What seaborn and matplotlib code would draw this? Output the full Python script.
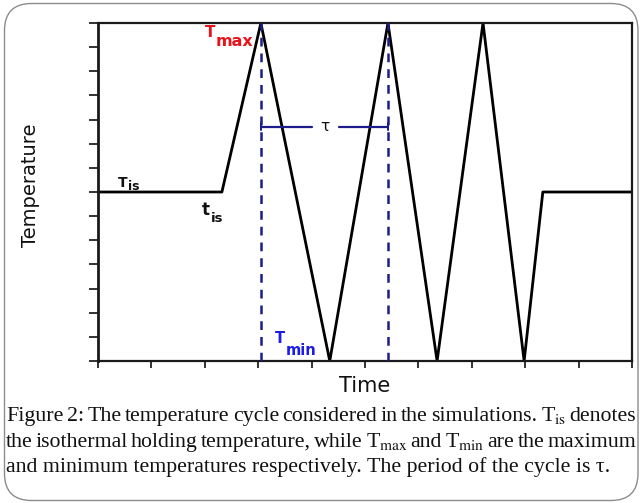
import matplotlib
matplotlib.use("Agg")
import matplotlib.pyplot as plt
import seaborn as sns
import numpy as np
import pandas as pd
from matplotlib.patches import FancyBboxPatch

# ---- data ----
time = [0.0, 2.32, 3.05, 4.34, 5.43, 6.35, 7.21, 7.98, 8.33, 10.0]
temp = [7, 7, 14, 0, 14, 0, 14, 0, 7, 7]
period_marks = [3.05, 5.43]          # dashed lines at first two maxima
tau_level = 9.7
x_ticks = list(range(0, 11))
y_ticks = list(range(0, 15))

caption_line1 = ["Figure", "2:", "The", "temperature", "cycle", "considered", "in", "the",
                 "simulations.", r"T$_{\mathrm{is}}$", "denotes"]
caption_line2 = ["the", "isothermal", "holding", "temperature,", "while", r"T$_{\mathrm{max}}$",
                 "and", r"T$_{\mathrm{min}}$", "are", "the", "maximum"]
caption_line3 = "and minimum temperatures respectively. The period of the cycle is τ."

sns.set_theme(style="white")
plt.rcParams['font.family'] = ['DejaVu Sans']

W, H = 641, 503
fig = plt.figure(figsize=(W / 100, H / 100), dpi=100)
fig.patch.set_facecolor("white")

L, R, T, B = 98, 632, 23, 361
ax = fig.add_axes([L / W, 1 - B / H, (R - L) / W, (B - T) / H])

df = pd.DataFrame({"Time": time, "Temperature": temp})
sns.lineplot(data=df, x="Time", y="Temperature", ax=ax, color="black", lw=2.0,
             sort=False, estimator=None)

navy = "#1c1c8a"
for xm in period_marks:
    ax.plot([xm, xm], [0, 14], color=navy, lw=1.8, ls=(0, (3.5, 2.8)), zorder=3)

# tau bracket
ax.plot([period_marks[0], 4.01], [tau_level, tau_level], color=navy, lw=1.6)
ax.plot([4.51, period_marks[1]], [tau_level, tau_level], color=navy, lw=1.6)
ax.plot([period_marks[0], period_marks[0]], [tau_level - 0.15, tau_level + 0.15], color=navy, lw=1.4)
ax.plot([period_marks[1], period_marks[1]], [tau_level - 0.15, tau_level + 0.15], color=navy, lw=1.4)
ax.text(4.25, tau_level, "τ", fontsize=11, ha="center", va="center", color="#111111")

ax.set_xlim(0, 10)
ax.set_ylim(0, 14)
ax.set_xticks(x_ticks)
ax.set_yticks(y_ticks)
ax.set_xticklabels([])
ax.set_yticklabels([])
ax.tick_params(axis="y", which="both", left=True, direction="out", length=6.5, width=1.3, color="#222222")
ax.tick_params(axis="x", which="both", bottom=True, direction="out", length=5, width=1.3, color="#222222")
for s in ["left", "bottom", "top", "right"]:
    ax.spines[s].set_visible(True)
    ax.spines[s].set_color("#1a1a1a")
    ax.spines[s].set_linewidth(1.6)
ax.spines["left"].set_linewidth(2.0)
ax.set_facecolor("white")
ax.grid(False)

ax.set_xlabel("Time", fontsize=15, color="#111111")
ax.set_ylabel("Temperature", fontsize=14, color="#111111")
ax.xaxis.set_label_coords(0.5, -0.045)
ax.yaxis.set_label_coords(-0.108, 0.52)

# labels inside plot
def px2d(px, py):
    return (px - L) / (R - L) * 10, (B - py) / (B - T) * 14

def sublabel(base, sub, pbase, psub, fs_base, fs_sub, color):
    x, y = px2d(*pbase)
    ax.text(x, y, base, fontsize=fs_base, fontweight="bold", color=color, ha="left", va="baseline")
    x, y = px2d(*psub)
    ax.text(x, y, sub, fontsize=fs_sub, fontweight="bold", color=color, ha="left", va="baseline")

sublabel("T", "max", (205, 37), (216, 46), 11.0, 11.5, "#e8141b")
sublabel("T", "min", (275, 343), (286, 355), 10.5, 10.5, "#1c1ce6")
sublabel("T", "is", (118, 187), (128, 189.5), 10.0, 9.0, "#111111")
sublabel("t", "is", (202, 215), (211, 222), 12, 9.5, "#111111")

# border
border = FancyBboxPatch((4.5, 2.5), 633.5, 497, boxstyle="round,pad=0,rounding_size=27",
                        transform=None, facecolor="none", edgecolor="#8c8c8c", lw=1.0)
fig.patches.append(border)

# caption, justified
fig.canvas.draw()
rend = fig.canvas.get_renderer()
cap_kw = dict(family="Liberation Serif", math_fontfamily="stix", color="#111111")

def width(s, fs):
    t = fig.text(0, 0, s, fontsize=fs, **cap_kw)
    w = t.get_window_extent(rend).width
    t.remove()
    return w

left_px, right_px = 6, 636
w10 = width(caption_line3, 10)
fs = 10 * 603 / w10

def justified(words, base_y):
    ws = [width(w, fs) for w in words]
    gap = (right_px - left_px - sum(ws)) / (len(words) - 1)
    x = left_px
    for w, wd in zip(words, ws):
        fig.text(x / W, 1 - base_y / H, w, fontsize=fs, ha="left", va="baseline", **cap_kw)
        x += wd + gap

justified(caption_line1, 421)
justified(caption_line2, 447)
fig.text(left_px / W, 1 - 472 / H, caption_line3, fontsize=fs, ha="left", va="baseline", **cap_kw)

fig.savefig("out.png", dpi=100)
